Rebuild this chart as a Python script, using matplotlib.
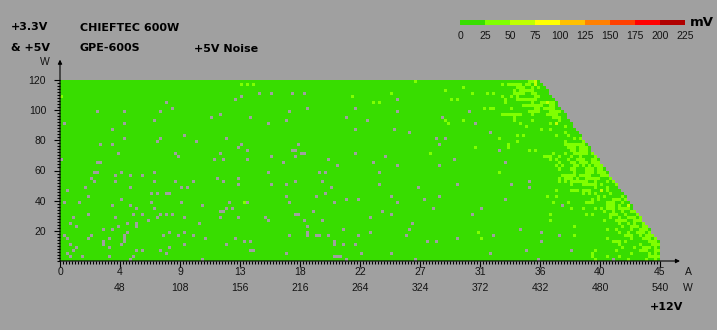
import numpy as np
import matplotlib.pyplot as plt
from matplotlib.colors import ListedColormap, BoundaryNorm

# noise colour scale (mV)
scale_mv = [0, 25, 50, 75, 100, 125, 150, 175, 200, 225]
scale_colors = ['#38dd00', '#80ff00', '#c0ff00', '#ffff00', '#ffc000',
                '#ff8000', '#ff4000', '#ff0000', '#b00000']

# +12V axis (A) and matching watts
amp_ticks = [0, 4.5, 9, 13.5, 18, 22.5, 27, 31.5, 36, 40.5, 45]
amp_labels = ['0', '4', '9', '13', '18', '22', '27', '31', '36', '40', '45']
watt_labels = ['', '48', '108', '156', '216', '264', '324', '372', '432', '480', '540']
# +3.3V & +5V axis (W)
w_ticks = [20, 40, 60, 80, 100, 120]

# measurement grid: 200 steps of +12V current x 60 steps of 3.3/5V load
n_cols, n_rows = 200, 60
amp_max, w_max = 45, 120
total_limit = 552  # combined load limit, W

# noise readings: most points are 0-25 mV
base_mv = 12
# cells read as 25-50 mV, by grid row (row 0 = 120 W)
band_25_50 = {
    0: [118, 156, 157], 1: [60, 62, 64, 147, 149, 150, 151, 152, 153, 155, 156],
    2: [134, 152, 153, 154, 157, 159], 3: [128, 151, 153, 154, 155, 156, 157],
    4: [110, 137, 142, 144, 151, 152, 153, 154, 157, 158],
    5: [0, 97, 147, 150, 152, 158, 159],
    6: [130, 132, 148, 152, 153, 154, 155, 156, 157, 158],
    7: [104, 106, 148, 157, 160, 161, 163, 164],
    8: [154, 155, 156, 157, 158, 159, 160, 163, 164],
    9: [141, 143, 144, 150, 158, 159, 161, 162, 163, 164],
    10: [156, 157, 158, 159, 163, 164, 165, 166],
    11: [147, 148, 149, 150, 151, 152, 153, 157, 162, 163, 164, 165],
    12: [151, 164, 165, 166], 13: [128, 134, 151, 157, 166],
    14: [129, 153, 163], 15: [155, 168], 16: [160, 163],
    17: [168], 18: [152, 154, 165, 169], 19: [146, 171, 173],
    20: [152, 168, 174], 21: [149, 168, 169, 170, 171, 172, 173, 174],
    22: [138, 149, 169, 170, 171, 173, 174, 175],
    23: [156, 158, 170, 171, 173, 174, 175, 177],
    24: [123, 164, 168, 171, 172, 173, 174, 175, 177],
    25: [161, 162, 163, 166, 170, 173, 178],
    26: [163, 165, 169, 172, 173, 174, 177, 178],
    27: [166, 170, 171, 173, 174, 175, 177, 178, 179],
    28: [165, 167, 171, 172, 174, 176, 178, 179, 180],
    29: [166, 170, 171, 175, 176, 177, 179, 180],
    30: [146, 171, 175, 176, 177, 179, 180, 181],
    31: [167, 168, 169, 170, 171, 173, 174, 175, 176, 180, 181, 182],
    32: [166, 168, 169, 170, 172, 175, 176, 177, 178, 179, 183],
    33: [166, 168, 170, 171, 172, 173, 174, 175, 178, 182, 184],
    34: [170, 174, 175, 176, 177, 178, 180, 185],
    35: [178, 182, 186], 36: [165, 170, 171, 172, 174, 175, 176, 182, 187],
    37: [174, 176, 178, 183, 188], 38: [162, 165, 179, 181, 187],
    39: [177, 179, 184, 185, 186, 188],
    40: [61, 164, 169, 175, 176, 177, 182, 183, 184, 187, 190],
    41: [182, 183, 184, 186],
    42: [170, 174, 178, 180, 182, 183, 184, 186, 187, 188, 189],
    43: [181, 184, 187, 190, 191, 192, 193],
    44: [163, 175, 177, 183, 184, 185, 188, 192, 193, 194],
    45: [183, 186, 189, 190, 191, 193],
    46: [163, 181, 185, 186, 187, 188, 191, 192, 193, 194],
    47: [186, 189, 191, 194, 195, 196],
    48: [171, 187, 190, 191, 192, 194, 195, 196, 197],
    49: [182, 185, 190, 193, 194, 195, 197],
    50: [139, 186, 189, 192, 193, 194, 196, 197, 198],
    51: [171, 188, 189, 190, 193, 195, 196, 197, 198],
    52: [140, 182, 190, 194, 195, 196, 198],
    53: [184, 185, 186, 188, 196, 197, 198],
    54: [186, 193, 197, 198, 199], 55: [187, 191, 194, 195, 196, 198],
    56: [178, 185, 193, 194, 195, 198, 199], 57: [177, 190, 196, 198],
    58: [177, 182, 186, 196, 197, 198, 199], 59: [178, 189, 195, 198],
}
band_25_50_mv = 37
# cells read as 50-75 mV (col, row)
band_50_75 = [(158, 0), (158, 1), (162, 7), (165, 14), (180, 36), (189, 41)]
band_50_75_mv = 62
# points with no reading (col, row)
missing = [
    (12, 10), (21, 10), (33, 10), (35, 7), (37, 9), (1, 14), (21, 14), (31, 13),
    (17, 16), (13, 21), (17, 21), (21, 19), (19, 24), (12, 27), (13, 27), (0, 26),
    (32, 20), (33, 19), (41, 18), (45, 20), (38, 24), (39, 25), (50, 12), (53, 11),
    (58, 6), (60, 5), (66, 4), (63, 12), (55, 19), (60, 21), (59, 22), (62, 23),
    (53, 24), (51, 26), (54, 26), (62, 26),
    (70, 4), (77, 4), (81, 4), (76, 10), (82, 9), (75, 13), (69, 14), (98, 9),
    (95, 12), (102, 13), (98, 16), (112, 6), (112, 10), (111, 16), (116, 17),
    (79, 21), (77, 23), (78, 23), (80, 24), (81, 24), (78, 25), (70, 25), (74, 27),
    (89, 26), (92, 28), (98, 24), (104, 27), (108, 25), (112, 28), (125, 19),
    (128, 19), (126, 21), (127, 12), (131, 26), (126, 28),
    (136, 10), (138, 14), (143, 17), (146, 23), (148, 27),
    (11, 30), (12, 30), (20, 30), (31, 30), (18, 31), (23, 31), (27, 31), (10, 32),
    (11, 33), (18, 33), (31, 33), (8, 35), (23, 35), (2, 36), (9, 38), (20, 39),
    (1, 40), (6, 40), (17, 41), (23, 41), (25, 42), (31, 42), (30, 37), (32, 37),
    (35, 37), (36, 37), (38, 33), (40, 35), (42, 35), (44, 33), (52, 32), (54, 33),
    (59, 32), (59, 34), (40, 40), (30, 40), (47, 41), (56, 40), (55, 42), (57, 42),
    (53, 43), (54, 43), (62, 40), (4, 45), (9, 44), (18, 45), (24, 44), (27, 44),
    (33, 44), (35, 44), (37, 44), (32, 45), (29, 46), (25, 47), (25, 48), (41, 45),
    (46, 47), (53, 45), (59, 45), (3, 47), (5, 48), (19, 48), (22, 47), (14, 49),
    (17, 49), (22, 50), (1, 51), (2, 52), (10, 51), (9, 52), (16, 52), (21, 51),
    (21, 52), (21, 53), (34, 51), (36, 50), (39, 51), (41, 50), (44, 51), (48, 52),
    (58, 52), (3, 54), (14, 53), (14, 54), (16, 55), (20, 54), (41, 54), (55, 54),
    (61, 53), (63, 53), (63, 56), (64, 56), (4, 56), (5, 55), (2, 57), (25, 56),
    (27, 56), (33, 56), (36, 55), (35, 57), (3, 58), (7, 58), (16, 58), (24, 58),
    (23, 59), (47, 59),
    (69, 30), (86, 30), (88, 30), (106, 30), (70, 34), (75, 34), (78, 33), (87, 33),
    (90, 35), (106, 34), (119, 35), (132, 34), (75, 38), (85, 38), (88, 37),
    (76, 40), (91, 40), (95, 39), (99, 39), (110, 38), (112, 40), (121, 39),
    (126, 38), (124, 42), (78, 44), (79, 44), (84, 43), (68, 45), (69, 46),
    (81, 46), (87, 46), (107, 43), (110, 44), (103, 45), (117, 47), (116, 49),
    (115, 51), (82, 48), (82, 50), (82, 51), (76, 51), (85, 51), (86, 51),
    (89, 51), (94, 49), (99, 51), (103, 50), (91, 53), (91, 54), (94, 54),
    (98, 54), (122, 53), (125, 53), (132, 52), (75, 57), (91, 58), (92, 58),
    (93, 58), (95, 59), (100, 57), (110, 57), (118, 59),
    (156, 33), (156, 35), (150, 34), (148, 39), (140, 42), (137, 44), (167, 41),
    (153, 49), (160, 50), (166, 51), (144, 51), (160, 53), (155, 56), (143, 57),
    (170, 56), (159, 59), (184, 59),
]

# build the grid
noise = np.full((n_rows, n_cols), float(base_mv))
for r, cols in band_25_50.items():
    noise[r, cols] = band_25_50_mv
for c, r in band_50_75:
    noise[r, c] = band_50_75_mv
for c, r in missing:
    noise[r, c] = np.nan
amp_edges = np.linspace(0, amp_max, n_cols + 1)
w_edges = np.linspace(w_max, 0, n_rows + 1)
amp_c = (amp_edges[:-1] + amp_edges[1:]) / 2
w_c = (w_edges[:-1] + w_edges[1:]) / 2
A, Wg = np.meshgrid(amp_c, w_c)
noise[12 * A + Wg > total_limit] = np.nan

bg = '#a0a0a0'
txt = '#141414'
fig = plt.figure(figsize=(7.17, 3.30), dpi=100, facecolor=bg)


def px(x, y):
    return x / 717, 1 - y / 330


ax = fig.add_axes([60 / 717, 1 - 261 / 330, 600 / 717, 181 / 330])
ax.set_facecolor(bg)
cmap = ListedColormap(scale_colors)
cmap.set_bad(bg)
norm = BoundaryNorm(scale_mv, cmap.N)
ax.pcolormesh(amp_edges, w_edges, np.ma.masked_invalid(noise), cmap=cmap,
              norm=norm, antialiased=False, edgecolors='none', linewidth=0)
ax.set_xlim(0, amp_max)
ax.set_ylim(0, w_max)
for s in ax.spines.values():
    s.set_visible(False)

ax.set_xticks(amp_ticks)
ax.set_xticklabels([])
ax.set_xticks(np.arange(0, amp_max + 0.01, 0.225), minor=True)
ax.set_yticks(w_ticks)
ax.set_yticklabels([str(v) for v in w_ticks], fontsize=7.5, color=txt,
                   family='Liberation Sans')
ax.set_yticks(np.arange(0, w_max + 0.1, 2), minor=True)
ax.tick_params(which='major', length=4, width=0.8, color='black', pad=6)
ax.tick_params(which='minor', length=2, width=0.8, color='black')

for a, al, wl in zip(amp_ticks, amp_labels, watt_labels):
    ax.annotate(al, xy=(a, 0), xycoords=('data', 'axes fraction'),
                xytext=(0, -11 * 0.72), textcoords='offset points',
                ha='center', va='center', fontsize=7.5, color=txt,
                family='Liberation Sans')
    ax.annotate(wl, xy=(a, 0), xycoords=('data', 'axes fraction'),
                xytext=(0, -27 * 0.72), textcoords='offset points',
                ha='center', va='center', fontsize=7.5, color=txt,
                family='Liberation Sans')

arrow = dict(arrowstyle='-|>', color='black', lw=0.8, mutation_scale=6,
             shrinkA=0, shrinkB=0)
ax.annotate('', xy=(46.5, 0), xytext=(0, 0), arrowprops=arrow,
            annotation_clip=False)
ax.annotate('', xy=(0, 133.5), xytext=(0, 0), arrowprops=arrow,
            annotation_clip=False)

bold = dict(fontsize=8, fontweight='bold', color='black', va='center')
fig.text(*px(11, 27), '+3.3V', **bold)
fig.text(*px(11, 48), '& +5V', **bold)
fig.text(*px(80, 28), 'CHIEFTEC 600W', **bold)
fig.text(*px(80, 48), 'GPE-600S', **bold)
fig.text(*px(194, 49), '+5V Noise', **bold)
fig.text(*px(650, 307), '+12V', **bold)
fig.text(*px(45, 62), 'W', fontsize=7.5, color=txt, ha='center', va='center',
         family='Liberation Sans')
fig.text(*px(688, 272), 'A', fontsize=7.5, color=txt, ha='center', va='center',
         family='Liberation Sans')
fig.text(*px(688, 288), 'W', fontsize=7.5, color=txt, ha='center', va='center',
         family='Liberation Sans')

# colour scale
cax = fig.add_axes([460 / 717, 1 - 25 / 330, 225 / 717, 5 / 330])
cax.bar(scale_mv[:-1], [1] * 9, width=25, align='edge', color=scale_colors)
cax.set_xlim(0, 225)
cax.set_ylim(0, 1)
cax.axis('off')
for v in scale_mv:
    fig.text(*px(460 + v, 36), str(v), fontsize=7.5, color=txt, ha='center',
             va='center', family='Liberation Sans')
fig.text(*px(690, 22), 'mV', fontsize=9.5, fontweight='bold', color='black',
         va='center')

fig.savefig('out.png', dpi=100, facecolor=bg)
